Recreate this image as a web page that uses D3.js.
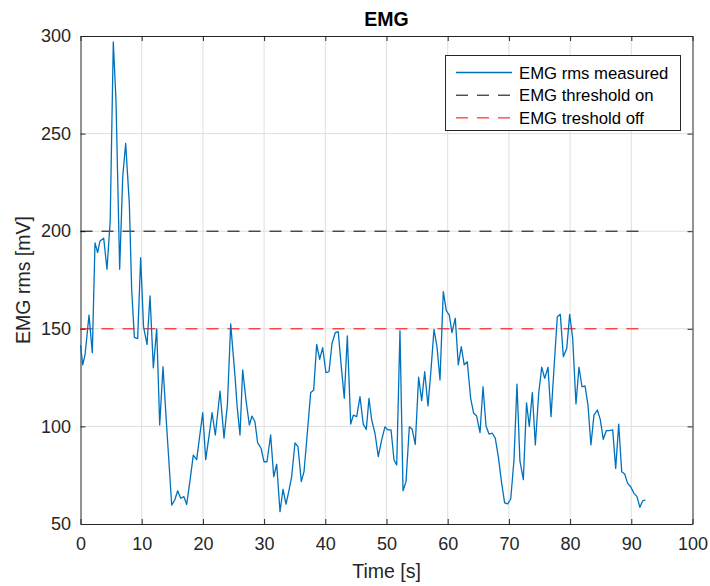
<!DOCTYPE html>
<html>
<head>
<meta charset="utf-8">
<script src="https://cdn.jsdelivr.net/npm/d3@7"></script>
<style>
  html, body { margin: 0; padding: 0; background: #fff; }
  svg { display: block; font-family: "Liberation Sans", Arial, sans-serif; }
</style>
</head>
<body>
<svg id="chart" width="710" height="586"></svg>
<script>
// ---- Data ----
const timeS = [0,0.36,0.74,1.39,1.93,2.37,2.8,3.19,3.79,4.33,4.85,5.36,5.8,6.4,6.9,7.38,7.98,8.36,8.8,9.34,9.83,10.3,10.87,11.36,11.9,12.45,12.94,13.48,14.08,14.9,15.4,15.88,16.37,16.9,17.35,17.9,18.43,18.98,19.97,20.46,21.0,21.5,22.03,22.8,23.45,24.0,24.54,25.25,25.6,26.06,26.5,27.04,27.59,28.02,28.5,28.95,29.5,29.98,30.47,31.07,31.57,32.06,32.6,33.09,33.58,34.05,34.5,35.05,35.54,36.08,36.52,37.06,37.61,38.1,38.59,39.08,39.57,40.11,40.6,41.1,41.63,42.12,42.6,43.1,43.6,44.15,44.58,45.13,45.67,46.2,46.7,47.14,47.58,48.12,48.66,49.2,49.75,50.2,50.74,51.23,51.67,52.2,52.7,53.19,53.73,54.2,54.7,55.25,55.75,56.24,56.78,57.27,57.76,58.25,58.74,59.28,59.77,60.26,60.7,61.24,61.73,62.22,62.7,63.2,63.75,64.25,64.73,65.28,65.77,66.26,66.75,67.3,67.78,68.27,68.82,69.3,69.8,70.3,70.83,71.32,71.8,72.36,72.88,73.33,73.83,74.32,74.87,75.36,75.85,76.39,76.88,77.37,77.91,78.4,78.9,79.45,79.93,80.42,80.96,81.45,81.94,82.44,82.92,83.4,83.9,84.45,84.93,85.42,85.9,86.4,86.96,87.45,87.94,88.43,88.92,89.4,89.9,90.44,90.93,91.4,91.86,92.3];
const emgRms = [141.7,131.5,136.6,157,137.8,194,189,195,196.4,180.5,205,297,267,180.5,228,245,214,170,145.6,145,186.4,151,142,166.8,130,150,100.7,130.6,99.8,59.7,62.3,67,63.2,64,60,72.5,85.3,83,107,83,95,107,95.6,118,94,111,152.5,125.5,110,95.6,128.9,113.5,100.7,105.3,102.4,91.6,88.8,81.9,81.9,95.6,74.2,80.6,56.3,67.8,60.2,67,74.2,91.6,89.6,71.7,76.8,96.5,117.3,118.6,142,134.4,140.3,127.5,128,142.6,148,148.5,131,114.4,146.3,101.2,105.8,105,115.2,101.2,98.5,114.4,103.3,96.5,84.5,93,99.8,98.2,98.2,82.8,80.2,149,67,71.7,99.8,98.5,90.8,125.2,113.2,128,110.5,128.9,149.7,140.8,123.8,169,159.3,157,148,155.4,131.5,140.8,131.5,133.1,114.4,106.7,105.3,96.8,120.3,100.2,96.1,96.5,93.9,84.5,70.8,60.8,60.3,62.8,82.8,121.7,82.3,72.7,112.1,100,117.3,90.5,117,130.3,124.6,130.3,105,129.8,156.2,157.4,135.7,140,157.4,145.1,111.5,130.3,120.3,120.7,111,90.5,105.8,108.4,103.6,93.4,97.8,97.8,98.2,78.5,101.2,76.8,75.6,70.8,69.1,65.7,64,58.6,61.9,62.3];
const thresholdOn = 200;
const thresholdOff = 150;
const xTicks = [0,10,20,30,40,50,60,70,80,90,100];
const yTicks = [50,100,150,200,250,300];
const legendLabels = ["EMG rms measured", "EMG threshold on", "EMG treshold off"];
const titleText = "EMG";
const xLabel = "Time [s]";
const yLabel = "EMG rms [mV]";

// ---- Layout ----
const svg = d3.select("#chart");
const L = 80.5, R = 692.5, T = 36, B = 524;
const x = d3.scaleLinear().domain([0, 100]).range([L, R]);
const y = d3.scaleLinear().domain([50, 300]).range([B, T]);
const axisColor = "#262626";
const tStart = timeS[0], tEnd = timeS[timeS.length - 1];

// grid
const g = svg.append("g");
g.selectAll("line.gx").data(xTicks.slice(1, -1)).enter().append("line")
  .attr("x1", d => x(d)).attr("x2", d => x(d)).attr("y1", T).attr("y2", B)
  .attr("stroke", "#dfdfdf").attr("stroke-width", 1);
g.selectAll("line.gy").data(yTicks.slice(1, -1)).enter().append("line")
  .attr("y1", d => y(d)).attr("y2", d => y(d)).attr("x1", L).attr("x2", R)
  .attr("stroke", "#dfdfdf").attr("stroke-width", 1);

// axes (ticks inside)
const ax = (axis, tf) => {
  const a = svg.append("g").attr("transform", tf).call(axis);
  a.select(".domain").attr("stroke", axisColor);
  a.selectAll(".tick line").attr("stroke", axisColor);
  a.selectAll("text").attr("fill", axisColor).style("font-size", "18px");
  return a;
};
ax(d3.axisBottom(x).tickValues(xTicks).tickSizeInner(-5).tickSizeOuter(0).tickPadding(13).tickFormat(d3.format("d")), `translate(0,${B})`);
ax(d3.axisTop(x).tickValues(xTicks).tickSizeInner(-5).tickSizeOuter(0).tickFormat(""), `translate(0,${T})`);
ax(d3.axisLeft(y).tickValues(yTicks).tickSizeInner(-5).tickSizeOuter(0).tickPadding(9.5).tickFormat(d3.format("d")), `translate(${L},0)`);
ax(d3.axisRight(y).tickValues(yTicks).tickSizeInner(-5).tickSizeOuter(0).tickFormat(""), `translate(${R},0)`);

// threshold lines
svg.append("line").attr("x1", x(tStart)).attr("x2", x(tEnd)).attr("y1", y(thresholdOn)).attr("y2", y(thresholdOn))
  .attr("stroke", "#000").attr("stroke-width", 1).attr("stroke-dasharray", "12,9");
svg.append("line").attr("x1", x(tStart)).attr("x2", x(tEnd)).attr("y1", y(thresholdOff)).attr("y2", y(thresholdOff))
  .attr("stroke", "#ff0000").attr("stroke-width", 1).attr("stroke-dasharray", "12,9");

// data line
const line = d3.line().x((d, i) => x(timeS[i])).y(d => y(d));
svg.append("path").datum(emgRms).attr("d", line)
  .attr("fill", "none").attr("stroke", "#0072BD").attr("stroke-width", 1.3).attr("stroke-linejoin", "round");

// title & labels
svg.append("text").attr("x", (L + R) / 2).attr("y", 26).attr("text-anchor", "middle")
  .attr("font-weight", "bold").attr("font-size", "19.5px").attr("fill", "#000").text(titleText);
svg.append("text").attr("x", (L + R) / 2).attr("y", 578).attr("text-anchor", "middle")
  .attr("font-size", "19.5px").attr("fill", axisColor).text(xLabel);
svg.append("text").attr("transform", `translate(30,${(T + B) / 2}) rotate(-90)`).attr("text-anchor", "middle")
  .attr("font-size", "19.5px").attr("fill", axisColor).text(yLabel);

// legend
const lg = svg.append("g");
lg.append("rect").attr("x", 445.5).attr("y", 55.5).attr("width", 235).attr("height", 75)
  .attr("fill", "#fff").attr("stroke", axisColor).attr("stroke-width", 1);
const styles = [
  { c: "#0072BD", dash: null },
  { c: "#000", dash: "12,9" },
  { c: "#ff0000", dash: "12,9" }
];
legendLabels.forEach((lab, i) => {
  const yy = 72.5 + i * 22.7;
  const l = lg.append("line").attr("x1", 456).attr("x2", 512).attr("y1", yy).attr("y2", yy)
    .attr("stroke", styles[i].c).attr("stroke-width", i === 0 ? 1.3 : 1);
  if (styles[i].dash) l.attr("stroke-dasharray", styles[i].dash);
  lg.append("text").attr("x", 519).attr("y", yy + 6).attr("font-size", "16.7px").attr("fill", "#000").text(lab);
});
</script>
</body>
</html>
